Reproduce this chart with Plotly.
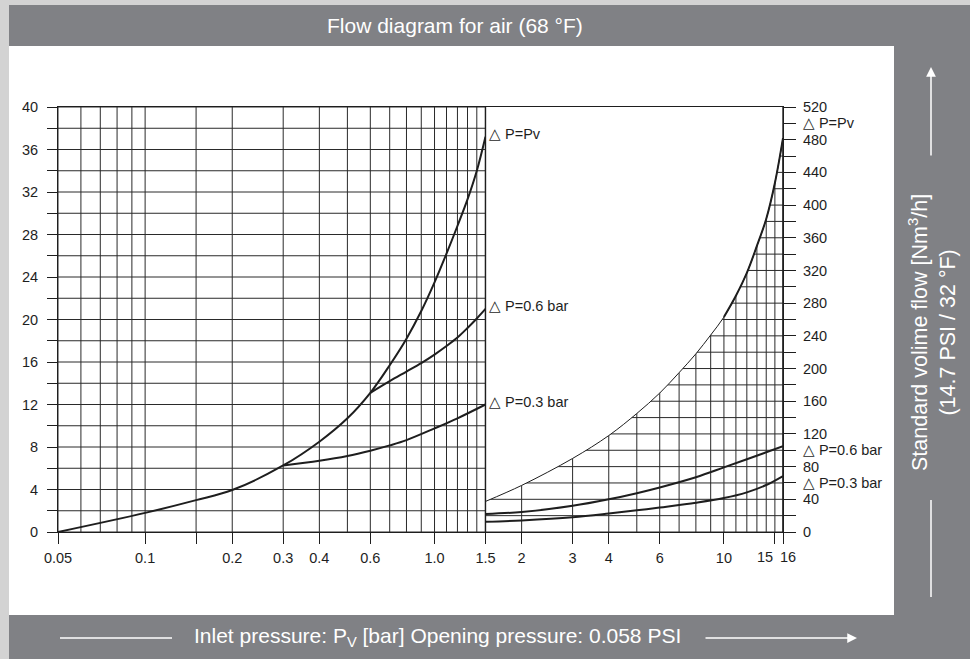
import numpy as np
import plotly.graph_objects as go

# ---------------- data ----------------
LEFT_PV_X = [0.05, 0.1, 0.15, 0.2, 0.3, 0.4, 0.5, 0.6, 0.7, 0.8, 0.9, 1.0, 1.1, 1.2, 1.3, 1.4, 1.5]
LEFT_PV_Y = [0, 1.8, 3.0, 3.95, 6.26, 8.5, 10.7, 13.1, 15.7, 18.2, 20.8, 23.5, 26.2, 28.8, 31.3, 34.0, 37.2]

LEFT_06_X = [0.6, 0.7, 0.8, 0.9, 1.0, 1.1, 1.2, 1.3, 1.4, 1.5]
LEFT_06_Y = [13.1, 14.2, 15.1, 15.9, 16.7, 17.5, 18.3, 19.2, 20.1, 21.0]

LEFT_03_X = [0.3, 0.4, 0.5, 0.6, 0.7, 0.8, 1.0, 1.2, 1.5]
LEFT_03_Y = [6.26, 6.7, 7.15, 7.65, 8.15, 8.65, 9.75, 10.7, 12.0]

RIGHT_PV_X = [1.5, 2, 3, 4, 5, 6, 7, 8, 9, 10, 11, 12, 13, 14, 15, 16]
RIGHT_PV_Y = [37.4, 57, 90, 118, 145, 170, 195, 218, 241, 263, 289, 317, 350, 383, 427, 482]

RIGHT_06_X = [1.5, 2, 3, 4, 5, 6, 8, 10, 12, 14, 16]
RIGHT_06_Y = [22, 24.5, 32, 40, 47.5, 54.5, 67, 79, 89, 97.5, 105]

RIGHT_03_X = [1.5, 2, 3, 4, 5, 6, 8, 10, 12, 14, 16]
RIGHT_03_Y = [12.5, 14.2, 18, 22.5, 26.5, 30, 35.8, 41.5, 48.5, 57.5, 68.5]

X_TICK_VALS = [0.05, 0.1, 0.15, 0.2, 0.3, 0.4, 0.6, 1.0, 1.5, 2, 3, 4, 6, 10, 15, 16]
X_TICK_TEXT = ["0.05", "0.1", "", "0.2", "0.3", "0.4", "0.6", "1.0", "1.5", "2", "3", "4",
               "6", "10", "15", "16"]
# the last two labels sit side by side (15 left of its tick, 16 right of its tick)
X_TICK_CROWDED = [15, 16]

LEFT_GRID_X = [0.05, 0.06, 0.07, 0.08, 0.09, 0.1, 0.15, 0.2, 0.3, 0.4, 0.5, 0.6, 0.7, 0.8,
               0.9, 1.0, 1.1, 1.2, 1.3, 1.4, 1.5]
RIGHT_GRID_X = [1.5, 2, 3, 4, 5, 6, 7, 8, 9, 10, 11, 12, 13, 14, 15, 16]

LEFT_Y_TICKS = list(range(0, 41, 2))
LEFT_Y_TEXT = [str(v) if v % 4 == 0 else "" for v in LEFT_Y_TICKS]

RIGHT_Y_TICKS = list(range(0, 521, 20))
RIGHT_CURVE_LABELS = {500: "\u25b3 P=Pv", 100: "\u25b3 P=0.6 bar", 60: "\u25b3 P=0.3 bar"}
RIGHT_Y_TEXT = [RIGHT_CURVE_LABELS.get(v, str(v) if v % 40 == 0 else "") for v in RIGHT_Y_TICKS]

LEFT_LABELS = ["\u25b3 P=Pv", "\u25b3 P=0.6 bar", "\u25b3 P=0.3 bar"]

TITLE = "Flow diagram for air (68 °F)"
X_TITLE = "Inlet pressure: P<sub>V</sub> [bar] Opening pressure: 0.058 PSI"
Y_TITLE = "Standard volime flow [Nm<sup>3</sup>/h]<br>(14.7 PSI / 32 °F)"

# ---------------- geometry ----------------
W, H = 970, 659
ML, MR, MT, MB = 58, 187, 107, 127
PW, PH = W - ML - MR, H - MT - MB


def px2x(px):
    return (px - ML) / PW


def py2y(py):
    return (H - MB - py) / PH


FONT = "Liberation Sans, Arial, sans-serif"
DARK = "#808185"
LIGHT = "#d3d3d3"
INK = "#1e1e1e"
GRID = "#2a2a2a"


def vlines(xs, y0, y1):
    X, Y = [], []
    for x in xs:
        X += [x, x, None]
        Y += [y0, y1, None]
    return X, Y


def hlines(ys, x0, x1):
    X, Y = [], []
    for y in ys:
        X += [x0, x1, None]
        Y += [y, y, None]
    return X, Y


fig = go.Figure()

# left grid
gx, gy = vlines(LEFT_GRID_X, LEFT_Y_TICKS[0], LEFT_Y_TICKS[-1])
hx, hy = hlines(LEFT_Y_TICKS, LEFT_GRID_X[0], LEFT_GRID_X[-1])
fig.add_trace(go.Scatter(x=gx + hx, y=gy + hy, mode="lines", line=dict(color=GRID, width=1),
                         hoverinfo="skip", showlegend=False))

# right grid (full, later masked above the Pv curve)
gx, gy = vlines(RIGHT_GRID_X, RIGHT_Y_TICKS[0], RIGHT_Y_TICKS[-1])
hx, hy = hlines(RIGHT_Y_TICKS, RIGHT_GRID_X[0], RIGHT_GRID_X[-1])
fig.add_trace(go.Scatter(x=gx + hx, y=gy + hy, yaxis="y2", mode="lines",
                         line=dict(color=GRID, width=1), hoverinfo="skip", showlegend=False))

# mask above Pv curve (right panel)
fig.add_trace(go.Scatter(x=[RIGHT_PV_X[0], RIGHT_PV_X[-1]], y=[RIGHT_Y_TICKS[-1]] * 2, yaxis="y2",
                         mode="lines", line=dict(width=0, color="white"),
                         hoverinfo="skip", showlegend=False))
fig.add_trace(go.Scatter(x=RIGHT_PV_X, y=RIGHT_PV_Y, yaxis="y2", mode="lines",
                         line=dict(color=INK, width=1, shape="spline"),
                         fill="tonexty", fillcolor="white", hoverinfo="skip", showlegend=False))

# panel borders
bx, by = vlines([RIGHT_GRID_X[0], RIGHT_GRID_X[-1]], RIGHT_Y_TICKS[0], RIGHT_Y_TICKS[-1])
fig.add_trace(go.Scatter(x=bx, y=by, yaxis="y2", mode="lines", line=dict(color=INK, width=1.4),
                         hoverinfo="skip", showlegend=False))

# curves
curve = dict(color=INK, width=2, shape="spline")
fig.add_trace(go.Scatter(x=LEFT_PV_X, y=LEFT_PV_Y, mode="lines", line=curve, showlegend=False))
fig.add_trace(go.Scatter(x=LEFT_06_X, y=LEFT_06_Y, mode="lines", line=curve, showlegend=False))
fig.add_trace(go.Scatter(x=LEFT_03_X, y=LEFT_03_Y, mode="lines", line=curve, showlegend=False))
k = RIGHT_PV_X.index(10)
fig.add_trace(go.Scatter(x=RIGHT_PV_X[k:], y=RIGHT_PV_Y[k:], yaxis="y2", mode="lines",
                         line=curve, showlegend=False))
fig.add_trace(go.Scatter(x=RIGHT_06_X, y=RIGHT_06_Y, yaxis="y2", mode="lines", line=curve,
                         showlegend=False))
fig.add_trace(go.Scatter(x=RIGHT_03_X, y=RIGHT_03_Y, yaxis="y2", mode="lines", line=curve,
                         showlegend=False))

tickfont = dict(family=FONT, size=14.5, color=INK)

# x tick text: crowded pair drawn as annotations so they sit side by side
x_tick_text_axis = ["" if v in X_TICK_CROWDED else t for v, t in zip(X_TICK_VALS, X_TICK_TEXT)]

annotations = []
for txt, xs, ys in zip(LEFT_LABELS, [LEFT_PV_X, LEFT_06_X, LEFT_03_X],
                       [LEFT_PV_Y, LEFT_06_Y, LEFT_03_Y]):
    annotations.append(dict(x=np.log10(xs[-1]), y=ys[-1], xref="x", yref="y", text=txt,
                            showarrow=False, xanchor="left", yanchor="middle",
                            xshift=2, yshift=3, font=tickfont))

for v, t in zip(X_TICK_VALS, X_TICK_TEXT):
    if v in X_TICK_CROWDED:
        left_side = v == X_TICK_CROWDED[0]
        annotations.append(dict(x=np.log10(v), y=py2y(557), xref="x", yref="paper", text=t,
                                showarrow=False, xanchor="right" if left_side else "left",
                                yanchor="middle", xshift=0 if left_side else -5,
                                font=tickfont))

white = dict(family=FONT, color="white")
annotations += [
    dict(x=px2x(455), y=py2y(26), xref="paper", yref="paper", text=TITLE, showarrow=False,
         xanchor="center", yanchor="middle", font=dict(size=21, **white)),
    dict(x=px2x(437), y=py2y(637), xref="paper", yref="paper", text=X_TITLE, showarrow=False,
         xanchor="center", yanchor="middle", font=dict(size=21, **white)),
    dict(x=px2x(932), y=py2y(333), xref="paper", yref="paper", text=Y_TITLE, showarrow=False,
         textangle=-90, xanchor="center", yanchor="middle", font=dict(size=21.5, **white)),
    # arrows
    dict(x=px2x(857), y=py2y(638), xref="paper", yref="paper", text="", showarrow=True,
         ax=-153, ay=0, arrowhead=2, arrowsize=1.3, arrowwidth=1.5, arrowcolor="white",
         standoff=0),
    dict(x=px2x(931), y=py2y(67), xref="paper", yref="paper", text="", showarrow=True,
         ax=0, ay=90, arrowhead=2, arrowsize=1.3, arrowwidth=1.5, arrowcolor="white",
         standoff=0),
]

shapes = [
    dict(type="rect", xref="paper", yref="paper", x0=px2x(9), x1=px2x(980), y0=py2y(5),
         y1=py2y(670), fillcolor=DARK, line=dict(width=0), layer="below"),
    dict(type="rect", xref="paper", yref="paper", x0=px2x(9), x1=px2x(894), y0=py2y(46),
         y1=py2y(615), fillcolor="white", line=dict(width=0), layer="below"),
    dict(type="line", xref="paper", yref="paper", x0=px2x(60), x1=px2x(172), y0=py2y(638),
         y1=py2y(638), line=dict(color="white", width=1.5)),
    dict(type="line", xref="paper", yref="paper", x0=px2x(931), x1=px2x(931), y0=py2y(500),
         y1=py2y(597), line=dict(color="white", width=1.5)),
]

fig.update_layout(
    width=W, height=H, margin=dict(l=ML, r=MR, t=MT, b=MB, pad=0),
    paper_bgcolor=LIGHT, plot_bgcolor="white", showlegend=False,
    font=dict(family=FONT, color=INK),
    xaxis=dict(type="log", range=[np.log10(X_TICK_VALS[0]), np.log10(X_TICK_VALS[-1])],
               showgrid=False, zeroline=False, showline=True, linecolor=INK, linewidth=1.4,
               mirror=True, ticks="outside", ticklen=11, tickwidth=1, tickcolor=INK,
               tickvals=X_TICK_VALS, ticktext=x_tick_text_axis, tickangle=0, tickfont=tickfont,
               ticklabelstandoff=1),
    yaxis=dict(range=[LEFT_Y_TICKS[0], LEFT_Y_TICKS[-1]], showgrid=False, zeroline=False,
               showline=True, linecolor=INK, linewidth=1, ticks="outside", ticklen=10,
               tickwidth=1, tickcolor=INK, tickvals=LEFT_Y_TICKS, ticktext=LEFT_Y_TEXT,
               tickfont=tickfont, ticklabelstandoff=6),
    yaxis2=dict(range=[RIGHT_Y_TICKS[0], RIGHT_Y_TICKS[-1]], overlaying="y", side="right",
                showgrid=False, zeroline=False, showline=True, linecolor=INK, linewidth=1,
                ticks="outside", ticklen=12, tickwidth=1, tickcolor=INK,
                tickvals=RIGHT_Y_TICKS, ticktext=RIGHT_Y_TEXT, tickfont=tickfont,
                ticklabelstandoff=4),
    shapes=shapes, annotations=annotations,
)

fig.write_html("out.html", config={"displayModeBar": False},
               post_script="document.body.style.margin='0';")
